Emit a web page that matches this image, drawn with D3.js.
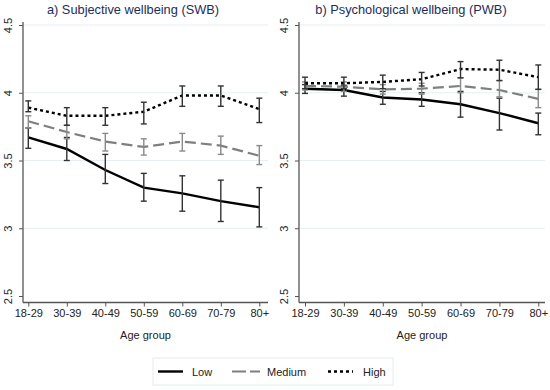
<!DOCTYPE html>
<html>
<head>
<meta charset="utf-8">
<script src="https://cdn.jsdelivr.net/npm/d3@7"></script>
<style>
  body { margin: 0; background: #fff; }
  text { font-family: "Liberation Sans", Arial, sans-serif; }
</style>
</head>
<body>
<div id="chart"></div>
<script>
// age groups on the x axis
var ages = ["18-29", "30-39", "40-49", "50-59", "60-69", "70-79", "80+"];
var yTicks = [2.5, 3, 3.5, 4, 4.5];
var groups = ["Low", "Medium", "High"];

// a) Subjective wellbeing: mean, lower CI, upper CI
var swbLow     = [3.67, 3.585, 3.43, 3.30, 3.257, 3.20, 3.155];
var swbLowLo   = [3.59, 3.50, 3.33, 3.20, 3.126, 3.05, 3.01];
var swbLowHi   = [3.74, 3.67, 3.545, 3.405, 3.387, 3.355, 3.30];
var swbMed     = [3.79, 3.71, 3.64, 3.60, 3.64, 3.61, 3.535];
var swbMedLo   = [3.74, 3.66, 3.57, 3.54, 3.57, 3.545, 3.47];
var swbMedHi   = [3.83, 3.76, 3.70, 3.66, 3.70, 3.68, 3.61];
var swbHigh    = [3.89, 3.83, 3.83, 3.86, 3.98, 3.98, 3.88];
var swbHighLo  = [3.86, 3.76, 3.76, 3.77, 3.90, 3.90, 3.78];
var swbHighHi  = [3.94, 3.89, 3.89, 3.93, 4.05, 4.05, 3.96];

// b) Psychological wellbeing
var pwbLow     = [4.03, 4.02, 3.965, 3.95, 3.915, 3.85, 3.775];
var pwbLowLo   = [3.995, 3.975, 3.915, 3.90, 3.82, 3.725, 3.69];
var pwbLowHi   = [4.06, 4.055, 4.01, 4.0, 4.01, 3.96, 3.85];
var pwbMed     = [4.05, 4.045, 4.025, 4.03, 4.05, 4.02, 3.955];
var pwbMedLo   = [4.02, 4.01, 3.99, 3.99, 4.00, 3.97, 3.89];
var pwbMedHi   = [4.08, 4.08, 4.06, 4.07, 4.11, 4.09, 4.025];
var pwbHigh    = [4.07, 4.07, 4.08, 4.10, 4.175, 4.17, 4.115];
var pwbHighLo  = [4.03, 4.03, 4.03, 4.05, 4.11, 4.09, 4.025];
var pwbHighHi  = [4.115, 4.115, 4.13, 4.15, 4.23, 4.24, 4.205];

var styles = {
  Low:    {stroke: "#000", width: 2.4, dash: null, bar: "#333"},
  Medium: {stroke: "#7f7f7f", width: 2.2, dash: "11,5", bar: "#8a8a8a"},
  High:   {stroke: "#000", width: 2.4, dash: "3,3", bar: "#333"}
};

var W = 550, H = 390;
var svg = d3.select("#chart").append("svg").attr("width", W).attr("height", H);

function toRows(m, lo, hi) {
  return ages.map(function(a, i) { return {age: a, m: m[i], lo: lo[i], hi: hi[i]}; });
}

var panels = [
  {title: "a) Subjective wellbeing (SWB)", axisX: 23, x0: 28.3, x1: 259.3, right: 268, cx: 133,
   series: {Low: toRows(swbLow, swbLowLo, swbLowHi), Medium: toRows(swbMed, swbMedLo, swbMedHi), High: toRows(swbHigh, swbHighLo, swbHighHi)}},
  {title: "b) Psychological wellbeing (PWB)", axisX: 299, x0: 305, x1: 538.3, right: 545, cx: 411,
   series: {Low: toRows(pwbLow, pwbLowLo, pwbLowHi), Medium: toRows(pwbMed, pwbMedLo, pwbMedHi), High: toRows(pwbHigh, pwbHighLo, pwbHighHi)}}
];

var y = d3.scaleLinear().domain([2.5, 4.5]).range([296, 25]);
var baseY = 302.5;

panels.forEach(function(p) {
  var x = d3.scalePoint().domain(ages).range([p.x0, p.x1]);
  var g = svg.append("g");

  // gridlines
  g.selectAll(".grid").data(yTicks.filter(function(t) { return t > 2.5; }))
    .enter().append("line")
    .attr("x1", p.axisX + 1).attr("x2", p.right)
    .attr("y1", function(d) { return y(d); }).attr("y2", function(d) { return y(d); })
    .attr("stroke", "#e6eff2").attr("stroke-width", 1);

  // y axis
  var ya = g.append("g").attr("transform", "translate(" + p.axisX + ",0)")
    .call(d3.axisLeft(y).tickValues(yTicks).tickSize(4).tickFormat(d3.format("")));
  ya.select(".domain").attr("d", "M0,22V" + baseY).attr("stroke", "#555").attr("stroke-width", 1.3);
  ya.selectAll(".tick line").attr("stroke", "#555");
  ya.selectAll(".tick text")
    .attr("x", 0).attr("y", 0).attr("dy", 0)
    .attr("transform", "translate(-11,0) rotate(-90)")
    .attr("text-anchor", "middle")
    .attr("font-size", 11).attr("fill", "#222");

  // x axis
  var xa = g.append("g").attr("transform", "translate(0," + baseY + ")")
    .call(d3.axisBottom(x).tickSize(4).tickSizeOuter(0).tickPadding(3));
  xa.select(".domain").attr("d", "M" + p.axisX + ",0H" + p.right).attr("stroke", "#555").attr("stroke-width", 1.3);
  xa.selectAll(".tick line").attr("stroke", "#555");
  xa.selectAll(".tick text").attr("font-size", 11).attr("fill", "#222");

  g.append("text").attr("x", (p.axisX + p.right) / 2).attr("y", 339)
    .attr("text-anchor", "middle").attr("font-size", 11).attr("fill", "#222").text("Age group");

  g.append("text").attr("x", p.cx).attr("y", 14)
    .attr("text-anchor", "middle").attr("font-size", 12.8).attr("fill", "#1c2d5c").text(p.title);

  var line = d3.line().x(function(d) { return x(d.age); }).y(function(d) { return y(d.m); });

  groups.forEach(function(k) {
    var s = styles[k];
    var rows = p.series[k];
    g.append("path").datum(rows).attr("d", line)
      .attr("fill", "none").attr("stroke", s.stroke).attr("stroke-width", s.width)
      .attr("stroke-dasharray", s.dash);
    var eb = g.append("g").attr("stroke", s.bar).attr("stroke-width", 1.4).attr("fill", "none");
    eb.selectAll(".v").data(rows).enter().append("line")
      .attr("x1", function(d) { return x(d.age); }).attr("x2", function(d) { return x(d.age); })
      .attr("y1", function(d) { return y(d.lo); }).attr("y2", function(d) { return y(d.hi); });
    ["lo", "hi"].forEach(function(e) {
      eb.selectAll(".c" + e).data(rows).enter().append("line")
        .attr("x1", function(d) { return x(d.age) - 3; }).attr("x2", function(d) { return x(d.age) + 3; })
        .attr("y1", function(d) { return y(d[e]); }).attr("y2", function(d) { return y(d[e]); });
    });
  });
});

// legend
var lg = svg.append("g");
lg.append("rect").attr("x", 153).attr("y", 358).attr("width", 240).attr("height", 27)
  .attr("fill", "#fff").attr("stroke", "#e3ecef").attr("stroke-width", 1);
var legPos = {Low: [158, 183, 192], Medium: [232, 260, 267], High: [328, 353, 363]};
groups.forEach(function(k) {
  var s = styles[k], lp = legPos[k];
  lg.append("line").attr("x1", lp[0]).attr("x2", lp[1]).attr("y1", 371.5).attr("y2", 371.5)
    .attr("stroke", s.stroke).attr("stroke-width", s.width)
    .attr("stroke-dasharray", k === "Medium" ? "14,4" : s.dash);
  lg.append("text").attr("x", lp[2]).attr("y", 375.5).attr("font-size", 11).attr("fill", "#222").text(k);
});
</script>
</body>
</html>
